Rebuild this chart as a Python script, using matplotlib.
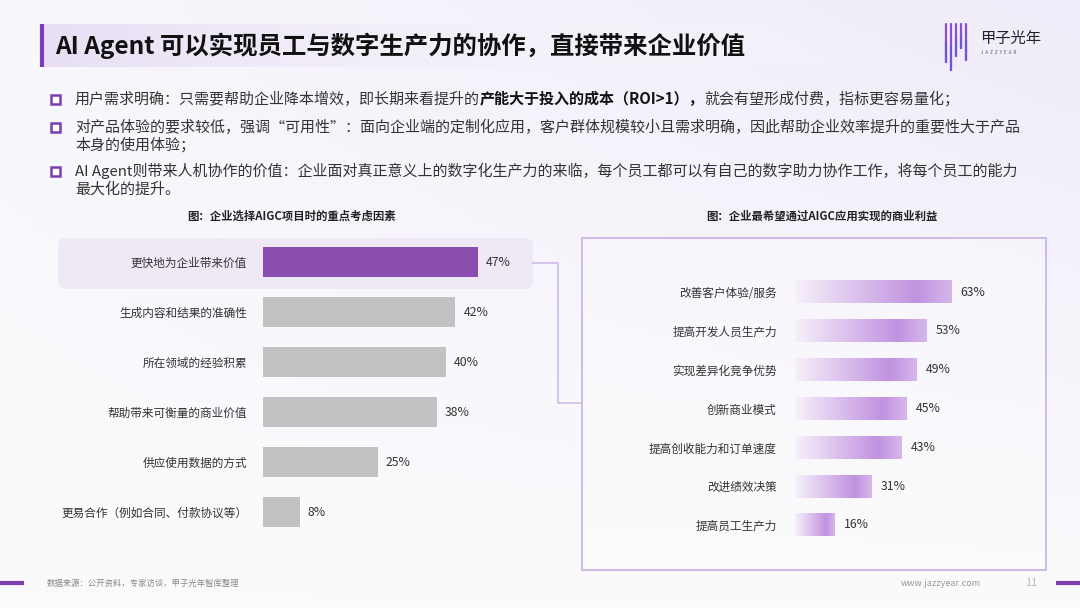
import numpy as np
import matplotlib
matplotlib.use("Agg")
import matplotlib.pyplot as plt
from matplotlib.colors import LinearSegmentedColormap
from matplotlib.patches import FancyBboxPatch, Rectangle

plt.rcParams["font.family"] = ["Noto Sans CJK SC", "DejaVu Sans"]

# ── Data ────────────────────────────────────────────────────────────────────
left_labels = ["更快地为企业带来价值", "生成内容和结果的准确性", "所在领域的经验积累",
               "帮助带来可衡量的商业价值", "供应使用数据的方式", "更易合作（例如合同、付款协议等）"]
left_values = [47, 42, 40, 38, 25, 8]

right_labels = ["改善客户体验/服务", "提高开发人员生产力", "实现差异化竞争优势", "创新商业模式",
                "提高创收能力和订单速度", "改进绩效决策", "提高员工生产力"]
right_values = [63, 53, 49, 45, 43, 31, 16]

TITLE = "AI Agent 可以实现员工与数字生产力的协作，直接带来企业价值"
LEFT_TITLE = "图：企业选择AIGC项目时的重点考虑因素"
RIGHT_TITLE = "图：企业最希望通过AIGC应用实现的商业利益"
SOURCE = "数据来源：公开资料，专家访谈，甲子光年智库整理"

# ── Palette ─────────────────────────────────────────────────────────────────
PURPLE = "#7b3fb0"
BAR_PURPLE = "#8a4db0"
GREY_BAR = "#c2c2c2"
TEXT = "#333333"
LINE = "#cbb6e6"
HILITE = "#efe9f6"

W, H = 1080, 608
fig = plt.figure(figsize=(W / 100, H / 100), dpi=100)

# background axes in pixel coordinates
bg = fig.add_axes([0, 0, 1, 1])
bg.set_xlim(0, W)
bg.set_ylim(H, 0)
bg.axis("off")

xx, yy = np.meshgrid(np.linspace(0, 1, 200), np.linspace(0, 1, 120))
shade = np.clip(0.75 * xx * (1 - yy) + 0.25 * (1 - yy), 0, 1)
bg_cmap = LinearSegmentedColormap.from_list("bg", ["#fbfbfd", "#efebf8"])
bg.imshow(shade, extent=[0, W, H, 0], cmap=bg_cmap, aspect="auto", zorder=0)

# title band
band = np.linspace(1, 0, 200).reshape(1, -1)
band_cmap = LinearSegmentedColormap.from_list("band", [(1, 1, 1, 0), "#e8dff5"])
bg.imshow(band, extent=[40, 900, 67, 24], cmap=band_cmap, aspect="auto", zorder=1)
bg.plot([41.5, 41.5], [24, 67], color=PURPLE, lw=3, solid_capstyle="butt", zorder=2)
bg.text(55, 46, TITLE, fontsize=17.6, fontweight="bold", color="#111111",
        va="center", ha="left", zorder=3)

# logo
logo_x = [946, 951, 956, 961, 966]
logo_len = [62, 70, 56, 48, 60]
for lx, ll in zip(logo_x, logo_len):
    bg.plot([lx, lx], [24, ll], color="#8e4bd6", lw=1.6, solid_capstyle="round")
    bg.plot([lx, lx], [(24 + ll) / 2, ll], color="#5c5ae0", lw=1.6, alpha=0.6)
bg.text(980, 38, "甲子光年", fontsize=11, color="#222222", va="center", ha="left")
bg.text(981, 53, "J  A  Z  Z  Y  E  A  R", fontsize=3.2, color="#555555",
        va="center", ha="left")

# bullets
renderer = fig.canvas.get_renderer()
inv = bg.transData.inverted()
bullet_rows = [99, 127, 171]
for by in bullet_rows:
    bg.add_patch(Rectangle((51, by - 4.5), 9, 9, facecolor="white",
                           edgecolor=PURPLE, lw=1.8, zorder=3))

FS = 10.8
x0 = 75
t = bg.text(x0, 99, "用户需求明确：只需要帮助企业降本增效，即长期来看提升的", fontsize=FS,
            color=TEXT, va="center", ha="left")
ext = t.get_window_extent(renderer)
x1 = inv.transform((ext.x1, 0))[0]
t = bg.text(x1, 99, "产能大于投入的成本（ROI>1），", fontsize=FS, color="#111111",
            fontweight="bold", va="center", ha="left")
ext = t.get_window_extent(renderer)
x2 = inv.transform((ext.x1, 0))[0]
bg.text(x2, 99, "就会有望形成付费，指标更容易量化；", fontsize=FS, color=TEXT,
        va="center", ha="left")

bg.text(x0, 127, "对产品体验的要求较低，强调“可用性”：面向企业端的定制化应用，客户群体规模较小且需求明确，因此帮助企业效率提升的重要性大于产品",
        fontsize=FS, color=TEXT, va="center", ha="left")
bg.text(x0, 145, "本身的使用体验；", fontsize=FS, color=TEXT, va="center", ha="left")
bg.text(x0, 171, "AI Agent则带来人机协作的价值：企业面对真正意义上的数字化生产力的来临，每个员工都可以有自己的数字助力协作工作，将每个员工的能力",
        fontsize=FS, color=TEXT, va="center", ha="left")
bg.text(x0, 189, "最大化的提升。", fontsize=FS, color=TEXT, va="center", ha="left")

# chart titles
bg.text(292, 216, LEFT_TITLE, fontsize=8.2, fontweight="bold", color="#222222",
        ha="center", va="center")
bg.text(822, 216, RIGHT_TITLE, fontsize=8.2, fontweight="bold", color="#222222",
        ha="center", va="center")

# highlight, connector, right frame
bg.add_patch(FancyBboxPatch((62, 242), 467, 43, boxstyle="round,pad=4,rounding_size=8",
                            facecolor=HILITE, edgecolor="none", zorder=1))
bg.plot([533, 558, 558, 582], [263, 263, 403, 403], color=LINE, lw=1.1, zorder=2)
bg.add_patch(Rectangle((582, 238), 464, 332, facecolor=(1, 1, 1, 0.25),
                       edgecolor=LINE, lw=1.3, zorder=1))

# footer
bg.plot([0, 24], [583, 583], color=PURPLE, lw=3, solid_capstyle="butt")
bg.plot([1056, 1080], [583, 583], color=PURPLE, lw=3, solid_capstyle="butt")
bg.text(47, 583, SOURCE, fontsize=6, color="#888888", va="center", ha="left")
bg.text(981, 583, "www.jazzyear.com", fontsize=6.5, color="#999999", va="center", ha="right")
bg.text(1031, 583, "11", fontsize=8, color="#bbbbbb", va="center", ha="center")


def px_axes(left, top, width, height):
    return fig.add_axes([left / W, 1 - (top + height) / H, width / W, height / H])


# ── Left chart ──────────────────────────────────────────────────────────────
ax1 = px_axes(263, 237, 300, 300)
ax1.patch.set_alpha(0)
ppx1 = 4.58  # pixels per percent
ax1.set_xlim(0, 300 / ppx1)
ax1.set_ylim(len(left_values) - 0.5, -0.5)
y1 = np.arange(len(left_values))
colors1 = [BAR_PURPLE] + [GREY_BAR] * (len(left_values) - 1)
ax1.barh(y1, left_values, height=0.6, color=colors1, edgecolor="none")
for yi, v in zip(y1, left_values):
    ax1.text(v + 8 / ppx1, yi, f"{v}%", fontsize=8.8, color=TEXT, va="center", ha="left")
ax1.set_yticks(y1)
ax1.set_yticklabels(left_labels, fontsize=8.4, color=TEXT)
ax1.tick_params(axis="y", length=0, pad=11.5)
ax1.set_xticks([])
for s in ax1.spines.values():
    s.set_visible(False)

# ── Right chart ─────────────────────────────────────────────────────────────
ax2 = px_axes(795, 272.6, 220, 271.8)
ax2.patch.set_alpha(0)
ppx2 = 2.48
n2 = len(right_values)
y2 = np.arange(n2)
grad_cmap = LinearSegmentedColormap.from_list(
    "grad", [(0, "#f6f1fa"), (0.78, "#c192e0"), (1, "#d6b7ec")])
grad = np.linspace(0, 1, 256).reshape(1, -1)
bh = 0.59
for yi, v in zip(y2, right_values):
    ax2.imshow(grad, extent=[0, v, yi + bh / 2, yi - bh / 2], cmap=grad_cmap,
               aspect="auto", interpolation="bilinear")
    ax2.text(v + 9 / ppx2, yi, f"{v}%", fontsize=8.8, color=TEXT, va="center", ha="left")
ax2.set_xlim(0, 220 / ppx2)
ax2.set_ylim(n2 - 0.5, -0.5)
ax2.set_yticks(y2)
ax2.set_yticklabels(right_labels, fontsize=8.4, color=TEXT)
ax2.tick_params(axis="y", length=0, pad=13)
ax2.set_xticks([])
for s in ax2.spines.values():
    s.set_visible(False)

fig.savefig("out.png", dpi=100)
